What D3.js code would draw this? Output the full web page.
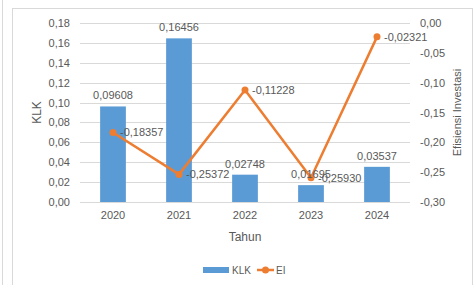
<!DOCTYPE html>
<html>
<head>
<meta charset="utf-8">
<script src="https://cdn.jsdelivr.net/npm/d3@7"></script>
<style>
  body { margin: 0; background: #fff; }
  text { font-family: "Liberation Sans", Arial, sans-serif; fill: #595959; }
</style>
</head>
<body>
<svg width="474" height="285"></svg>
<script>
const svg = d3.select('svg');
const width = +svg.attr('width');
const height = +svg.attr('height');

// data
const years = ['2020', '2021', '2022', '2023', '2024'];
const klk = [0.09608, 0.16456, 0.02748, 0.01695, 0.03537];
const ei = [-0.18357, -0.25372, -0.11228, -0.25930, -0.02321];
const leftTicks = [0, 0.02, 0.04, 0.06, 0.08, 0.10, 0.12, 0.14, 0.16, 0.18];
const rightTicks = [0, -0.05, -0.10, -0.15, -0.20, -0.25, -0.30];

const fmt = (v, d) => v.toFixed(d).replace('.', ',');

// frame lines
svg.append('line').attr('x1', 2.5).attr('x2', 2.5).attr('y1', 0).attr('y2', height)
  .attr('stroke', '#d9d9d9');
svg.append('rect')
  .attr('x', 12.5).attr('y', 8.5)
  .attr('width', 460).attr('height', 300)
  .attr('fill', 'none').attr('stroke', '#d9d9d9');

const plot = { left: 80, right: 410, top: 23, bottom: 202 };

const x = d3.scaleBand()
  .domain(years)
  .range([plot.left, plot.right])
  .paddingInner(0.61)
  .paddingOuter(0.305);

const yL = d3.scaleLinear().domain([0, 0.18]).range([plot.bottom, plot.top]);
const yR = d3.scaleLinear().domain([-0.30, 0]).range([plot.bottom, plot.top]);

// gridlines
svg.append('g')
  .selectAll('line')
  .data(leftTicks)
  .join('line')
    .attr('x1', plot.left).attr('x2', plot.right)
    .attr('y1', d => Math.round(yL(d)) + 0.5)
    .attr('y2', d => Math.round(yL(d)) + 0.5)
    .attr('stroke', '#d9d9d9');

// left axis
const leftAxis = svg.append('g')
  .attr('transform', `translate(${plot.left - 10},0)`)
  .call(d3.axisLeft(yL).tickValues(leftTicks).tickFormat(d => fmt(d, 2)).tickSize(0).tickPadding(0));
leftAxis.select('.domain').remove();
leftAxis.selectAll('text').attr('font-size', 11).attr('fill', '#595959')
  .style('font-family', '"Liberation Sans", Arial, sans-serif');

// right axis
const rightAxis = svg.append('g')
  .attr('transform', `translate(${plot.right + 10},0)`)
  .call(d3.axisRight(yR).tickValues(rightTicks).tickFormat(d => fmt(d, 2)).tickSize(0).tickPadding(0));
rightAxis.select('.domain').remove();
rightAxis.selectAll('text').attr('font-size', 11).attr('fill', '#595959')
  .style('font-family', '"Liberation Sans", Arial, sans-serif');

// x axis
const xAxis = svg.append('g')
  .attr('transform', `translate(0,${plot.bottom + 9})`)
  .call(d3.axisBottom(x).tickSize(0).tickPadding(0));
xAxis.select('.domain').remove();
xAxis.selectAll('text').attr('font-size', 11).attr('fill', '#595959')
  .style('font-family', '"Liberation Sans", Arial, sans-serif');

// axis titles
svg.append('text')
  .attr('x', (plot.left + plot.right) / 2)
  .attr('y', 241)
  .attr('text-anchor', 'middle')
  .attr('font-size', 12)
  .text('Tahun');

svg.append('text')
  .attr('transform', `translate(41,${(plot.top + plot.bottom) / 2}) rotate(-90)`)
  .attr('text-anchor', 'middle')
  .attr('font-size', 12)
  .text('KLK');

svg.append('text')
  .attr('transform', `translate(461,${(plot.top + plot.bottom) / 2}) rotate(-90)`)
  .attr('text-anchor', 'middle')
  .attr('font-size', 11)
  .text('Efisiensi Investasi');

// bars
svg.append('g')
  .selectAll('rect')
  .data(klk)
  .join('rect')
    .attr('x', (d, i) => x(years[i]))
    .attr('y', d => yL(d))
    .attr('width', x.bandwidth())
    .attr('height', d => yL(0) - yL(d))
    .attr('fill', '#5b9bd5');

// line
const line = d3.line()
  .x((d, i) => x(years[i]) + x.bandwidth() / 2)
  .y(d => yR(d));

svg.append('path')
  .datum(ei)
  .attr('d', line)
  .attr('fill', 'none')
  .attr('stroke', '#ed7d31')
  .attr('stroke-width', 2.5)
  .attr('stroke-linejoin', 'round');

svg.append('g')
  .selectAll('circle')
  .data(ei)
  .join('circle')
    .attr('cx', (d, i) => x(years[i]) + x.bandwidth() / 2)
    .attr('cy', d => yR(d))
    .attr('r', 3.5)
    .attr('fill', '#ed7d31');

// bar labels
svg.append('g')
  .selectAll('text')
  .data(klk)
  .join('text')
    .attr('x', (d, i) => x(years[i]) + x.bandwidth() / 2)
    .attr('y', d => yL(d) - 7)
    .attr('text-anchor', 'middle')
    .attr('font-size', 11)
    .text(d => fmt(d, 5));

// line labels
svg.append('g')
  .selectAll('text')
  .data(ei)
  .join('text')
    .attr('x', (d, i) => x(years[i]) + x.bandwidth() / 2 + 7)
    .attr('y', d => yR(d))
    .attr('dy', '0.35em')
    .attr('font-size', 11)
    .text(d => fmt(d, 5));

// legend
const legend = svg.append('g');
legend.append('rect')
  .attr('x', 203).attr('y', 267)
  .attr('width', 26).attr('height', 6)
  .attr('fill', '#5b9bd5');
legend.append('text')
  .attr('x', 232).attr('y', 270).attr('dy', '0.35em')
  .attr('font-size', 10)
  .text('KLK');
legend.append('line')
  .attr('x1', 257).attr('x2', 274).attr('y1', 270).attr('y2', 270)
  .attr('stroke', '#ed7d31').attr('stroke-width', 2.5);
legend.append('circle')
  .attr('cx', 265.5).attr('cy', 270).attr('r', 3.5)
  .attr('fill', '#ed7d31');
legend.append('text')
  .attr('x', 276).attr('y', 270).attr('dy', '0.35em')
  .attr('font-size', 10)
  .text('EI');
</script>
</body>
</html>
